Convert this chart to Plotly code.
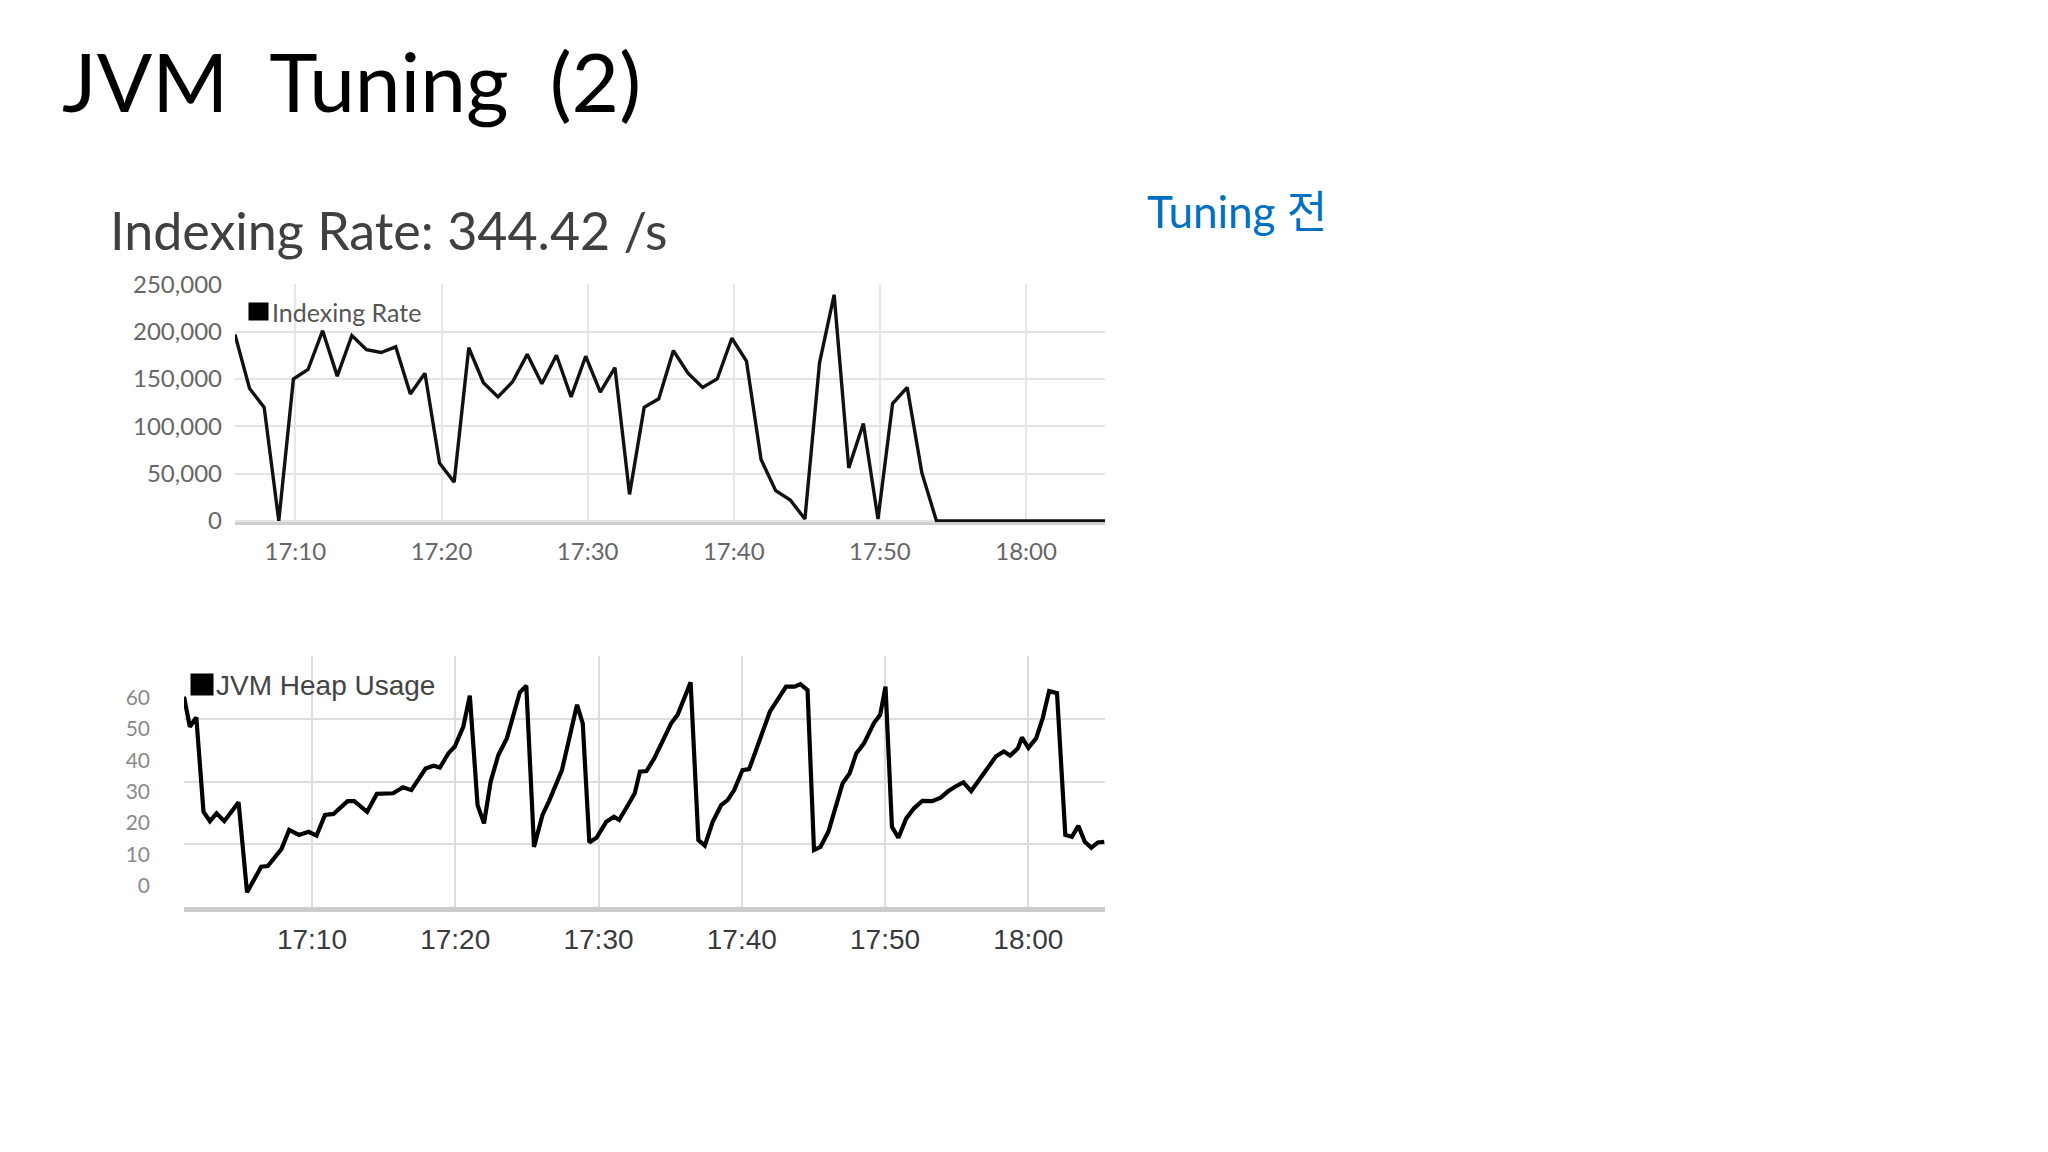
import pandas as pd
import plotly.graph_objects as go

# ---------------- data ----------------
BASE_DAY = "2017-01-01"

# Indexing rate (per-minute samples starting 17:05:52), values in docs/s
rate_start = BASE_DAY + " 17:05:52"
rate_values = [197000, 140000, 120000, 0, 150000, 160000, 201000, 153000, 196000, 181000,
               178000, 184000, 134000, 156000, 61000, 41000, 183000, 146000, 131000, 147000,
               176000, 145000, 175000, 131000, 174000, 136000, 162000, 28000, 120000, 129000,
               180000, 156000, 141000, 150000, 193000, 169000, 65000, 32000, 22000, 2000,
               167000, 239000, 56000, 103000, 2000, 124000, 141000, 51000, 0, 0,
               0, 0, 0, 0, 0, 0, 0, 0, 0, 0, 0]

# JVM heap usage: minutes after 17:00 and values
heap_minutes = [1.07, 1.48, 1.93, 2.43, 2.88, 3.34, 3.88, 4.88, 5.47, 6.46,
                6.92, 7.87, 8.41, 9.09, 9.77, 10.32, 10.91, 11.50, 12.49, 12.95,
                13.85, 14.53, 15.67, 16.35, 16.94, 17.93, 18.48, 18.93, 19.52, 19.97,
                20.56, 21.02, 21.56, 22.01, 22.47, 23.01, 23.60, 24.51, 24.96, 25.50,
                26.09, 26.55, 27.45, 28.50, 28.90, 29.36, 29.86, 30.54, 31.08, 31.44,
                31.99, 32.53, 32.89, 33.35, 33.89, 34.48, 35.07, 35.52, 36.43, 36.97,
                37.42, 37.97, 38.56, 39.01, 39.47, 40.05, 40.51, 40.96, 41.96, 43.09,
                43.68, 44.09, 44.59, 45.04, 45.49, 46.04, 47.04, 47.53, 47.99, 48.53,
                49.21, 49.66, 50.03, 50.48, 50.93, 51.48, 52.02, 52.61, 53.29, 53.88,
                54.42, 55.01, 55.47, 56.01, 56.69, 57.14, 57.73, 58.28, 58.73, 59.27,
                59.55, 60.00, 60.54, 61.00, 61.45, 62.00, 62.58, 63.04, 63.49, 63.94,
                64.40, 64.85, 65.30]
heap_values = [60.3, 50.7, 53.7, 23.6, 20.6, 23.1, 20.6, 26.6, -2.1, 6.1,
               6.3, 11.7, 17.8, 16.2, 17.2, 16.0, 22.6, 22.9, 27.0, 27.0,
               23.6, 29.3, 29.5, 31.4, 30.5, 37.4, 38.3, 37.7, 42.2, 44.4,
               50.7, 60.6, 25.7, 19.9, 33.2, 41.7, 47.0, 61.7, 63.8, 12.4,
               22.6, 27.0, 36.9, 57.7, 51.8, 13.8, 15.3, 20.4, 22.0, 21.0,
               25.2, 29.5, 36.4, 36.6, 40.6, 46.5, 51.8, 54.5, 64.9, 14.6,
               12.8, 20.4, 25.7, 27.3, 30.5, 36.9, 37.2, 42.8, 55.5, 63.5,
               63.5, 64.3, 62.4, 11.4, 12.4, 17.2, 32.7, 35.9, 42.2, 45.4,
               51.8, 54.5, 63.5, 18.8, 15.3, 21.5, 24.7, 27.1, 27.0, 28.1,
               30.2, 31.9, 33.0, 30.2, 34.5, 36.9, 41.2, 42.8, 41.5, 43.8,
               47.3, 44.0, 47.0, 53.4, 62.1, 61.4, 16.2, 15.6, 19.1, 14.0,
               12.1, 13.8, 14.0]

rate_ticks = [0, 50000, 100000, 150000, 200000, 250000]
rate_ticktext = ["0", "50,000", "100,000", "150,000", "200,000", "250,000"]
heap_ticks = [0, 10, 20, 30, 40, 50, 60]
heap_grid = [-6.8, 13.2, 33.2, 53.2, 73.2]

page_title = "JVM\u2002Tuning\u2002(2)"
chart_title = "Indexing Rate: 344.42 /s"
side_label = "Tuning 전"
rate_name = "Indexing Rate"
heap_name = "JVM Heap Usage"

# ---------------- build ----------------
W, H = 2048, 1152
t0 = pd.Timestamp(BASE_DAY + " 17:00")
rate_times = pd.date_range(start=rate_start, periods=len(rate_values), freq="1min")
heap_times = [t0 + pd.Timedelta(minutes=m) for m in heap_minutes]


def X(x):  # target page pixel -> paper fraction
    return (x - 8) / W


def Y(y):
    return 1 - ((y - 22) / 0.98) / H


LATO = "Lato, sans-serif"
ARIAL = "Liberation Sans, Arial, sans-serif"

fig = go.Figure()
fig.add_trace(go.Scatter(x=rate_times, y=rate_values, mode="lines", name=rate_name,
                         line=dict(color="#111111", width=3.4), xaxis="x", yaxis="y",
                         showlegend=False))
# invisible carrier for the grid axis
fig.add_trace(go.Scatter(x=heap_times, y=heap_values, mode="lines", name=heap_name,
                         line=dict(color="rgba(0,0,0,0)", width=0), xaxis="x2", yaxis="y2",
                         showlegend=False, hoverinfo="skip"))
fig.add_trace(go.Scatter(x=heap_times, y=heap_values, mode="lines", name=heap_name,
                         line=dict(color="#000000", width=4.2), xaxis="x2", yaxis="y3",
                         showlegend=False))

fig.update_layout(
    width=W, height=H,
    margin=dict(l=0, r=0, t=0, b=0),
    paper_bgcolor="white", plot_bgcolor="white",
    xaxis=dict(domain=[X(235), X(1105)], anchor="y", type="date",
               range=[t0 + pd.Timedelta(minutes=5.87), t0 + pd.Timedelta(minutes=65.4)],
               tick0=t0, dtick=600000, tickformat="%H:%M",
               showgrid=True, gridcolor="#e6e6e6", gridwidth=1.5,
               showline=True, linecolor="#cfcfcf", linewidth=3,
               ticks="", ticklabelstandoff=6,
               tickfont=dict(family=LATO, size=24, color="#666666")),
    yaxis=dict(domain=[Y(522.5), Y(283.5)], anchor="x", range=[-1500, 250000],
               tickvals=rate_ticks, ticktext=rate_ticktext,
               showgrid=True, gridcolor="#e4e4e4", gridwidth=2, zeroline=False,
               ticks="", ticklabelstandoff=12,
               tickfont=dict(family=LATO, size=24, color="#666666")),
    xaxis2=dict(domain=[X(184), X(1105)], anchor="y2", type="date",
                range=[t0 + pd.Timedelta(minutes=1.07), t0 + pd.Timedelta(minutes=65.35)],
                tick0=t0, dtick=600000, tickformat="%H:%M",
                showgrid=True, gridcolor="#dddddd", gridwidth=2,
                showline=True, linecolor="#cccccc", linewidth=5,
                ticks="", ticklabelstandoff=3,
                tickfont=dict(family=ARIAL, size=28, color="#3a3a3a")),
    yaxis2=dict(domain=[Y(909), Y(657)], anchor="x2", range=[-6.8, 73.2],
                tickvals=heap_grid, showticklabels=False,
                showgrid=True, gridcolor="#dddddd", gridwidth=2, zeroline=False),
    yaxis3=dict(anchor="x2", overlaying="y2", range=[-6.8, 73.2],
                tickvals=heap_ticks, showgrid=False, zeroline=False,
                ticks="", ticklabelstandoff=33,
                tickfont=dict(family=LATO, size=21, color="#8a8a8a")),
)

annotations = [
    dict(text=page_title, x=X(60), y=Y(78), xref="paper", yref="paper",
         xanchor="left", yanchor="middle", showarrow=False,
         font=dict(family=LATO, size=82, color="#000000")),
    dict(text=side_label, x=X(1145), y=Y(210), xref="paper", yref="paper",
         xanchor="left", yanchor="middle", showarrow=False,
         font=dict(family="Lato, Noto Sans CJK KR, sans-serif", size=44, color="#0070C0")),
    dict(text=chart_title, x=X(108), y=Y(229), xref="paper", yref="paper",
         xanchor="left", yanchor="middle", showarrow=False,
         font=dict(family=LATO, size=52, color="#404040")),
    # legend swatches
    dict(text=" ", x=X(258), y=Y(310.5), xref="paper", yref="paper",
         xanchor="center", yanchor="middle", showarrow=False, width=19, height=17,
         bgcolor="#000000", borderpad=0, font=dict(size=2)),
    dict(text=rate_name, x=X(270), y=Y(311), xref="paper", yref="paper",
         xanchor="left", yanchor="middle", showarrow=False,
         font=dict(family=LATO, size=25, color="#555555")),
    dict(text=" ", x=X(202), y=Y(685.5), xref="paper", yref="paper",
         xanchor="center", yanchor="middle", showarrow=False, width=22, height=21,
         bgcolor="#000000", borderpad=0, font=dict(size=2)),
    dict(text=heap_name, x=X(214), y=Y(686), xref="paper", yref="paper",
         xanchor="left", yanchor="middle", showarrow=False,
         font=dict(family=ARIAL, size=28, color="#444444")),
]
fig.update_layout(annotations=annotations)

fig.write_html("out.html")
